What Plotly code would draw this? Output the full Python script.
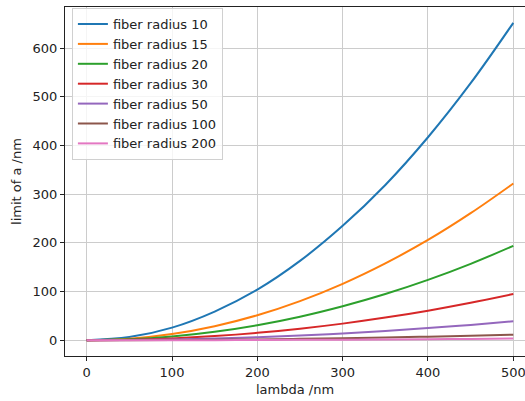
import plotly.graph_objects as go

lam = [0, 50, 100, 150, 200, 250, 300, 350, 400, 450, 500]
r10 = [0, 6.5, 26, 59, 104, 163, 235, 319, 417, 528, 652]
r15 = [0, 3.2, 12.9, 29, 51.5, 80.5, 116, 158, 206, 261, 322]
r20 = [0, 1.9, 7.8, 17.5, 31, 48.5, 70, 95, 124, 157, 194]
r30 = [0, 1.0, 3.8, 8.6, 15.2, 23.8, 34.2, 46.6, 60.8, 77, 95]
r50 = [0, 0.4, 1.6, 3.5, 6.2, 9.8, 14, 19.1, 25, 31.6, 39]
r100 = [0, 0.1, 0.46, 1.0, 1.8, 2.9, 4.1, 5.6, 7.4, 9.3, 11.5]
r200 = [0, 0.04, 0.14, 0.3, 0.56, 0.9, 1.3, 1.7, 2.2, 2.8, 3.5]

names = ["fiber radius 10", "fiber radius 15", "fiber radius 20", "fiber radius 30",
         "fiber radius 50", "fiber radius 100", "fiber radius 200"]
series = [r10, r15, r20, r30, r50, r100, r200]
colors = ["#1f77b4", "#ff7f0e", "#2ca02c", "#d62728", "#9467bd", "#8c564b", "#e377c2"]

fig = go.Figure()
for n, s, c in zip(names, series, colors):
    fig.add_trace(go.Scatter(x=lam, y=s, mode="lines", name=n,
                             line=dict(color=c, width=2, shape="spline")))

font = dict(family="DejaVu Sans", size=13, color="#222222")
fig.update_layout(
    width=525, height=401,
    margin=dict(l=65, r=0, t=7, b=45),
    paper_bgcolor="white", plot_bgcolor="white",
    font=font,
    showlegend=True,
    legend=dict(x=0.015, y=0.997, xanchor="left", yanchor="top",
                bgcolor="rgba(255,255,255,0.8)", bordercolor="#d0d0d0", borderwidth=1,
                font=font, tracegroupgap=0),
)
fig.update_xaxes(range=[-25.4, 513.7], tickvals=[0, 100, 200, 300, 400, 500],
                 tickfont=font, ticklabeloverflow="allow",
                 showgrid=True, gridcolor="#cccccc", gridwidth=1,
                 showline=True, linecolor="#222222", linewidth=1, mirror=True,
                 ticks="outside", ticklen=4, tickcolor="#222222", zeroline=False,
                 title=dict(text="lambda /nm", standoff=6, font=font))
fig.update_yaxes(range=[-32.3, 684.5], tickvals=[0, 100, 200, 300, 400, 500, 600],
                 tickfont=font,
                 showgrid=True, gridcolor="#cccccc", gridwidth=1,
                 showline=True, linecolor="#222222", linewidth=1, mirror=False,
                 ticks="outside", ticklen=4, tickcolor="#222222", zeroline=False,
                 title=dict(text="limit of a /nm", standoff=8, font=font))
fig.write_html("out.html")
